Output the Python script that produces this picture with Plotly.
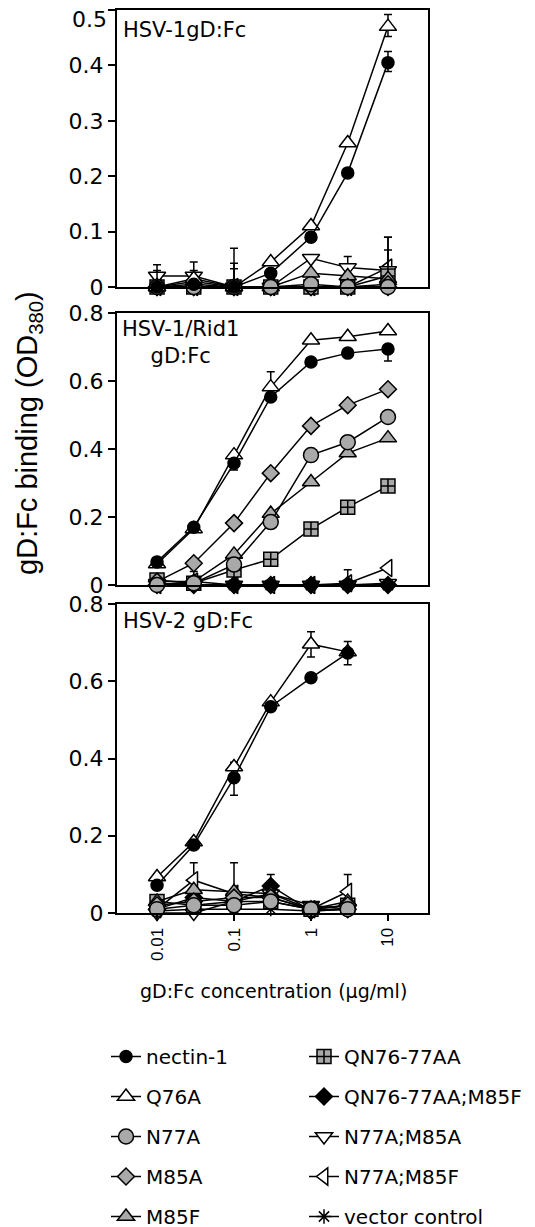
import plotly.graph_objects as go

# ---------------- data ----------------
conc7 = [0.01, 0.03, 0.1, 0.3, 1, 3, 10]
conc6 = [0.01, 0.03, 0.1, 0.3, 1, 3]

series_names = ["nectin-1", "Q76A", "N77A", "M85A", "M85F",
                "QN76-77AA", "QN76-77AA;M85F", "N77A;M85A", "N77A;M85F", "vector control"]

# Panel 1: HSV-1 gD:Fc
p1_nectin1 = [0.0, 0.005, 0.0, 0.025, 0.09, 0.206, 0.405]
p1_q76a = [0.0, 0.015, 0.0, 0.045, 0.11, 0.26, 0.47]
p1_n77a = [0.0, 0.0, 0.0, 0.0, 0.005, 0.0, 0.0]
p1_m85a = [0.0, 0.0, 0.0, 0.0, 0.0, 0.0, 0.005]
p1_m85f = [0.0, 0.01, 0.0, 0.0, 0.025, 0.02, 0.015]
p1_qn = [0.0, 0.0, 0.0, 0.0, 0.0, 0.0, 0.02]
p1_qnm85f = [0.0, 0.0, 0.0, 0.0, 0.0, 0.0, 0.0]
p1_n77am85a = [0.02, 0.02, 0.0, 0.0, 0.052, 0.035, 0.03]
p1_n77am85f = [0.0, 0.0, 0.0, 0.0, 0.0, 0.0, 0.035]
p1_vector = [0.0, 0.0, 0.0, 0.0, 0.0, 0.0, 0.0]

# Panel 2: HSV-1/Rid1 gD:Fc
p2_nectin1 = [0.068, 0.17, 0.358, 0.553, 0.656, 0.682, 0.694]
p2_q76a = [0.062, 0.165, 0.382, 0.582, 0.72, 0.73, 0.747]
p2_n77a = [0.0, 0.005, 0.06, 0.185, 0.382, 0.42, 0.494]
p2_m85a = [0.01, 0.064, 0.182, 0.329, 0.468, 0.529, 0.576]
p2_m85f = [0.01, 0.01, 0.09, 0.21, 0.303, 0.388, 0.432]
p2_qn = [0.015, 0.005, 0.044, 0.076, 0.165, 0.229, 0.291]
p2_qnm85f = [0.0, 0.0, 0.0, 0.0, 0.0, 0.0, 0.0]
p2_n77am85a = [0.005, 0.0, 0.0, 0.0, 0.0, 0.0, 0.005]
p2_n77am85f = [0.0, 0.01, 0.0, 0.0, 0.0, 0.005, 0.05]
p2_vector = [0.0, 0.0, 0.0, 0.0, 0.0, 0.0, 0.0]

# Panel 3: HSV-2 gD:Fc
p3_nectin1 = [0.072, 0.176, 0.35, 0.534, 0.609, 0.673]
p3_q76a = [0.093, 0.184, 0.378, 0.546, 0.696, 0.676]
p3_n77a = [0.01, 0.02, 0.02, 0.03, 0.01, 0.01]
p3_m85a = [0.02, 0.03, 0.04, 0.04, 0.01, 0.02]
p3_m85f = [0.03, 0.06, 0.055, 0.05, 0.01, 0.03]
p3_qn = [0.03, 0.02, 0.03, 0.03, 0.01, 0.02]
p3_qnm85f = [0.01, 0.04, 0.03, 0.07, 0.005, 0.01]
p3_n77am85a = [0.0, 0.0, 0.03, 0.05, 0.02, 0.01]
p3_n77am85f = [0.01, 0.085, 0.05, 0.04, 0.01, 0.055]
p3_vector = [0.005, 0.01, 0.01, 0.01, 0.005, 0.01]

# error bars (upper, lower) per panel and series
p1_err_up = {"nectin-1": [0, 0, 0, 0, 0, 0, 0.02], "Q76A": [0, 0.015, 0, 0, 0, 0, 0.022],
             "M85F": [0.03, 0, 0, 0, 0, 0, 0], "N77A": [0, 0, 0.043, 0, 0, 0, 0],
             "M85A": [0, 0, 0.033, 0, 0, 0, 0], "vector control": [0, 0, 0.07, 0, 0, 0, 0],
             "N77A;M85A": [0.02, 0.025, 0, 0, 0, 0.02, 0.06], "N77A;M85F": [0, 0, 0, 0, 0, 0, 0.055],
             "QN76-77AA": [0, 0, 0, 0, 0, 0, 0.047]}
p1_err_dn = {"nectin-1": [0, 0, 0, 0, 0, 0, 0.016], "Q76A": [0, 0, 0, 0, 0, 0, 0.018],
             "vector control": [0.02, 0.02, 0.02, 0.02, 0.02, 0.02, 0.02]}
p2_err_up = {"Q76A": [0, 0, 0, 0.045, 0, 0, 0], "N77A;M85A": [0, 0.04, 0, 0, 0, 0.045, 0]}
p2_err_dn = {"nectin-1": [0, 0, 0.02, 0, 0, 0, 0.035],
             "vector control": [0.02, 0.02, 0.02, 0.02, 0.02, 0.02, 0.02]}
p3_err_up = {"Q76A": [0, 0, 0.012, 0, 0.032, 0], "nectin-1": [0, 0, 0, 0, 0, 0.03],
             "N77A;M85F": [0, 0.045, 0, 0, 0, 0.045], "M85F": [0, 0, 0.075, 0, 0, 0],
             "QN76-77AA;M85F": [0, 0, 0, 0.03, 0, 0]}
p3_err_dn = {"Q76A": [0, 0, 0, 0, 0.033, 0], "nectin-1": [0, 0, 0.045, 0, 0, 0.03],
             "vector control": [0.02, 0, 0.02, 0, 0.02, 0]}

panel_titles = ["HSV-1gD:Fc", "HSV-1/Rid1<br>gD:Fc", "HSV-2 gD:Fc"]
x_tickvals = [0.01, 0.1, 1, 10]
x_ticktext = ["0.01", "0.1", "1", "10"]
y1_tickvals = [0, 0.1, 0.2, 0.3, 0.4, 0.5]
y1_ticktext = ["0", "0.1", "0.2", "0.3", "0.4", ""]   # top label "0.5" drawn just below its tick
y1_top_label = "0.5"
y23_tickvals = [0, 0.2, 0.4, 0.6, 0.8]
y23_ticktext = ["0", "0.2", "0.4", "0.6", "0.8"]
y_title = "gD:Fc binding (OD<sub>380</sub>)"
x_title = "gD:Fc concentration (μg/ml)"

# ---------------- styles ----------------
GRAY = "#a9a9a9"
style = {
    "nectin-1": dict(symbol="circle", color="black", size=12),
    "Q76A": dict(symbol="triangle-up", color="white", size=15),
    "N77A": dict(symbol="circle", color=GRAY, size=15),
    "M85A": dict(symbol="diamond", color=GRAY, size=13),
    "M85F": dict(symbol="triangle-up", color=GRAY, size=15),
    "QN76-77AA": dict(symbol="square-cross", color=GRAY, size=14),
    "QN76-77AA;M85F": dict(symbol="diamond", color="black", size=13),
    "N77A;M85A": dict(symbol="triangle-down", color="white", size=15),
    "N77A;M85F": dict(symbol="triangle-left", color="white", size=15),
    "vector control": dict(symbol="asterisk", color="black", size=12),
}
legend_col = {n: ("legend" if i < 5 else "legend2") for i, n in enumerate(series_names)}
draw_order = ["vector control", "N77A;M85F", "N77A;M85A", "QN76-77AA;M85F", "QN76-77AA",
              "M85F", "M85A", "N77A", "Q76A", "nectin-1"]

panels = [
    (conc7, dict(zip(series_names, [p1_nectin1, p1_q76a, p1_n77a, p1_m85a, p1_m85f, p1_qn,
                                    p1_qnm85f, p1_n77am85a, p1_n77am85f, p1_vector])), p1_err_up, p1_err_dn),
    (conc7, dict(zip(series_names, [p2_nectin1, p2_q76a, p2_n77a, p2_m85a, p2_m85f, p2_qn,
                                    p2_qnm85f, p2_n77am85a, p2_n77am85f, p2_vector])), p2_err_up, p2_err_dn),
    (conc6, dict(zip(series_names, [p3_nectin1, p3_q76a, p3_n77a, p3_m85a, p3_m85f, p3_qn,
                                    p3_qnm85f, p3_n77am85a, p3_n77am85f, p3_vector])), p3_err_up, p3_err_dn),
]

fig = go.Figure()
for pi, (xs, data, eu, ed) in enumerate(panels):
    xa = "x" if pi == 0 else f"x{pi+1}"
    ya = "y" if pi == 0 else f"y{pi+1}"
    for name in draw_order:
        st = style[name]
        ys = data[name]
        zeros = [0] * len(ys)
        up = eu.get(name, zeros)
        dn = ed.get(name, zeros)
        has_err = any(v > 0 for v in up) or any(v > 0 for v in dn)
        sym_line = dict(color="black", width=1.5)
        fig.add_trace(go.Scatter(
            x=xs, y=ys, xaxis=xa, yaxis=ya, name=name,
            mode="lines+markers", cliponaxis=False,
            line=dict(color="black", width=1.5),
            marker=dict(symbol=st["symbol"], size=st["size"], color=st["color"], line=sym_line),
            error_y=dict(type="data", symmetric=False, array=up, arrayminus=dn,
                         color="black", thickness=1.5, width=4, visible=has_err),
            legendgroup=name, showlegend=(pi == 0), legend=legend_col[name],
            legendrank=series_names.index(name) + 1,
        ))

W, H = 535, 1227
xdom = [117 / W, 428 / W]
ydoms = [[1 - 287 / H, 1 - 10 / H], [1 - 585 / H, 1 - 313 / H], [1 - 913 / H, 1 - 604 / H]]
FONT = "DejaVu Sans, Verdana, sans-serif"
FONT_NARROW = "Liberation Sans, Arial, Helvetica, sans-serif"

layout = dict(
    width=W, height=H, margin=dict(l=0, r=0, t=0, b=0, autoexpand=False),
    paper_bgcolor="white", plot_bgcolor="white",
    font=dict(family=FONT, color="black", size=20),
    showlegend=True,
)
for pi in range(3):
    xk = "xaxis" if pi == 0 else f"xaxis{pi+1}"
    yk = "yaxis" if pi == 0 else f"yaxis{pi+1}"
    ya = "y" if pi == 0 else f"y{pi+1}"
    xa = "x" if pi == 0 else f"x{pi+1}"
    layout[xk] = dict(
        type="log", range=[-2.52, 1.52], domain=xdom, anchor=ya,
        showline=True, linecolor="black", linewidth=2, mirror=True,
        showgrid=False, zeroline=False, automargin=False,
        tickvals=x_tickvals, ticktext=x_ticktext,
        ticks="outside" if pi == 2 else "", ticklen=6, tickwidth=1.5, tickcolor="black",
        showticklabels=(pi == 2), tickangle=-90, ticklabeloverflow="allow",
        tickfont=dict(size=17, family=FONT_NARROW),
    )
    layout[yk] = dict(
        range=[0, 0.5] if pi == 0 else [0, 0.8], domain=ydoms[pi], anchor=xa,
        showline=True, linecolor="black", linewidth=2, mirror=True,
        showgrid=False, zeroline=False, automargin=False,
        tickvals=y1_tickvals if pi == 0 else y23_tickvals,
        ticktext=y1_ticktext if pi == 0 else y23_ticktext,
        ticks="outside", ticklen=7, tickwidth=1.5, tickcolor="black",
        ticklabeloverflow="allow", tickfont=dict(size=22),
    )

layout["legend"] = dict(x=106 / W, y=1 - 1037 / H, xanchor="left", yanchor="top",
                        font=dict(size=20), tracegroupgap=11, traceorder="grouped",
                        bgcolor="rgba(0,0,0,0)")
layout["legend2"] = dict(x=304 / W, y=1 - 1037 / H, xanchor="left", yanchor="top",
                         font=dict(size=20), tracegroupgap=11, traceorder="grouped",
                         bgcolor="rgba(0,0,0,0)")

annotations = [
    dict(text=panel_titles[0], x=121 / W, y=1 - 30 / H, xanchor="left", yanchor="middle",
         showarrow=False, font=dict(size=21)),
    dict(text=panel_titles[1], x=180 / W, y=1 - 342 / H, xanchor="center", yanchor="middle",
         showarrow=False, font=dict(size=21), align="center"),
    dict(text=panel_titles[2], x=121 / W, y=1 - 621 / H, xanchor="left", yanchor="middle",
         showarrow=False, font=dict(size=21)),
    dict(text=y1_top_label, x=109 / W, y=1 - 20 / H, xanchor="right", yanchor="middle",
         showarrow=False, font=dict(size=22)),
    dict(text=y_title, x=29 / W, y=1 - 433 / H, xanchor="center", yanchor="middle",
         textangle=-90, showarrow=False, font=dict(size=29, family=FONT_NARROW)),
    dict(text=x_title, x=273 / W, y=1 - 991 / H, xanchor="center", yanchor="middle",
         showarrow=False, font=dict(size=19)),
]
for a in annotations:
    a["xref"] = "paper"
    a["yref"] = "paper"
layout["annotations"] = annotations
fig.update_layout(**layout)
fig.write_html("out.html", config={"displayModeBar": False},
               post_script="document.body.style.margin='0px';")
